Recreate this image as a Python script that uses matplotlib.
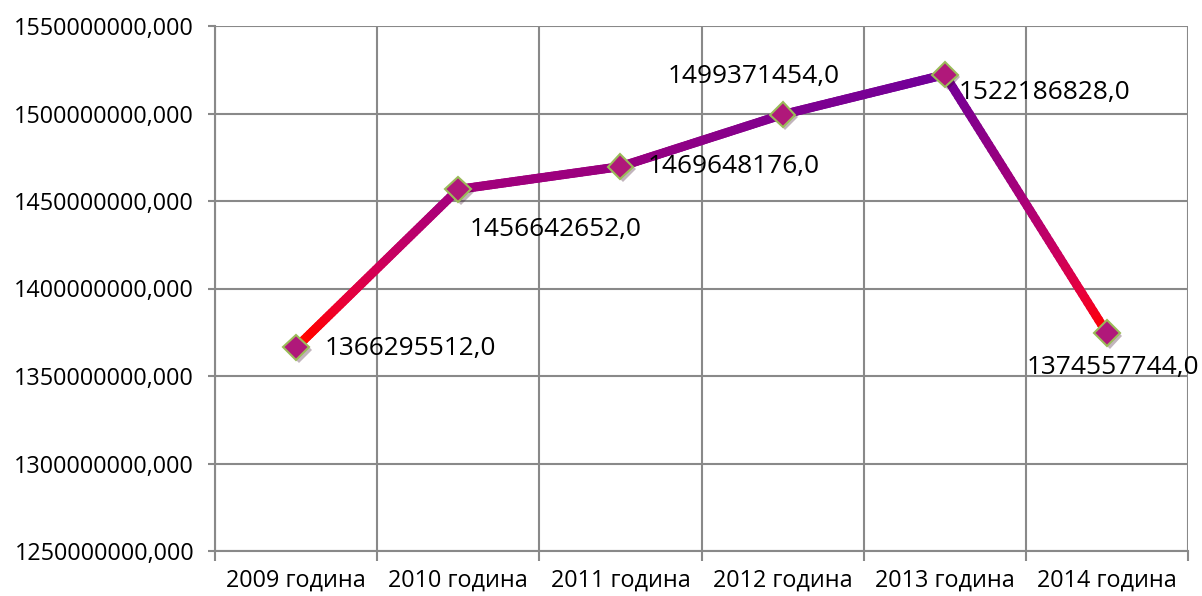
import matplotlib
matplotlib.use('Agg')
import matplotlib.pyplot as plt
import matplotlib.patheffects as pe
from matplotlib.collections import LineCollection
from matplotlib.colors import LinearSegmentedColormap
import numpy as np

# chart data
years = ['2009 година', '2010 година', '2011 година', '2012 година', '2013 година', '2014 година']
values = [1366295512.0, 1456642652.0, 1469648176.0, 1499371454.0, 1522186828.0, 1374557744.0]
y_ticks = [1250000000, 1300000000, 1350000000, 1400000000, 1450000000, 1500000000, 1550000000]
# label offsets in pixels (dx, dy) and alignment for each data label
label_offsets = [(29, -1, 'left'), (11, -40, 'left'), (27, 0, 'left'),
                 (-29, 38, 'center'), (14, -18, 'left'), (6, -34, 'center')]

plt.rcParams['font.family'] = ['Open Sans', 'DejaVu Sans']

fig = plt.figure(figsize=(12.02, 5.96), dpi=100)
ax = fig.add_axes([215 / 1202, 1 - 551 / 596, (1188 - 215) / 1202, (551 - 26) / 596])

grid_col = '#898989'
x = np.arange(len(years))
ax.set_xlim(-0.5, len(years) - 0.5)
ax.set_ylim(y_ticks[0], y_ticks[-1])

# grid
ax.set_yticks(y_ticks)
ax.set_yticklabels([f'{v:.3f}'.replace('.', ',') for v in y_ticks])
ax.set_xticks(x)
ax.set_xticklabels(years)
ax.set_xticks(np.arange(len(years) + 1) - 0.5, minor=True)
ax.grid(axis='y', which='major', color=grid_col, linewidth=1.5)
ax.grid(axis='x', which='minor', color=grid_col, linewidth=1.5)
ax.set_axisbelow(True)
for s in ['top', 'right']:
    ax.spines[s].set_visible(False)
for s in ['left', 'bottom']:
    ax.spines[s].set_color(grid_col)
    ax.spines[s].set_linewidth(1.5)
ax.tick_params(axis='y', which='major', length=5, width=1.5, color=grid_col,
               labelsize=16.8, pad=10)
ax.tick_params(axis='x', which='major', length=0, labelsize=16.8, pad=13)
ax.tick_params(axis='x', which='minor', length=7, width=1.5, color=grid_col)

# gradient line, colour by value
cmap = LinearSegmentedColormap.from_list('grad', [
    (0.0, '#FF3000'), (0.09, '#FF0000'), (0.21, '#E8003A'), (0.36, '#C80060'),
    (0.55, '#A8007A'), (0.67, '#98007F'), (0.85, '#80008F'), (1.0, '#70009A')])
vmin, vmax = 1360000000, 1525000000
segs, cols = [], []
for i in range(len(values) - 1):
    xs = np.linspace(x[i], x[i + 1], 60)
    ys = np.linspace(values[i], values[i + 1], 60)
    for j in range(len(xs) - 1):
        segs.append([(xs[j], ys[j]), (xs[j + 1], ys[j + 1])])
        cols.append(cmap((0.5 * (ys[j] + ys[j + 1]) - vmin) / (vmax - vmin)))
lc = LineCollection(segs, colors=cols, linewidths=6.5, capstyle='round', zorder=3)
ax.add_collection(lc)

ax.plot(x, values, linestyle='none', marker='D', markersize=13,
        markerfacecolor='#B0187A', markeredgecolor='#9BBB59', markeredgewidth=1.5,
        zorder=4, path_effects=[pe.SimplePatchShadow(offset=(2, -2), alpha=0.3), pe.Normal()])

for xi, v, (dx, dy, ha) in zip(x, values, label_offsets):
    ax.annotate(f'{v:.1f}'.replace('.', ','), (xi, v), xytext=(dx * 0.72, dy * 0.72),
                textcoords='offset points', ha=ha, va='center', fontsize=18.9,
                annotation_clip=False, zorder=5)

fig.savefig('out.png', dpi=100)
